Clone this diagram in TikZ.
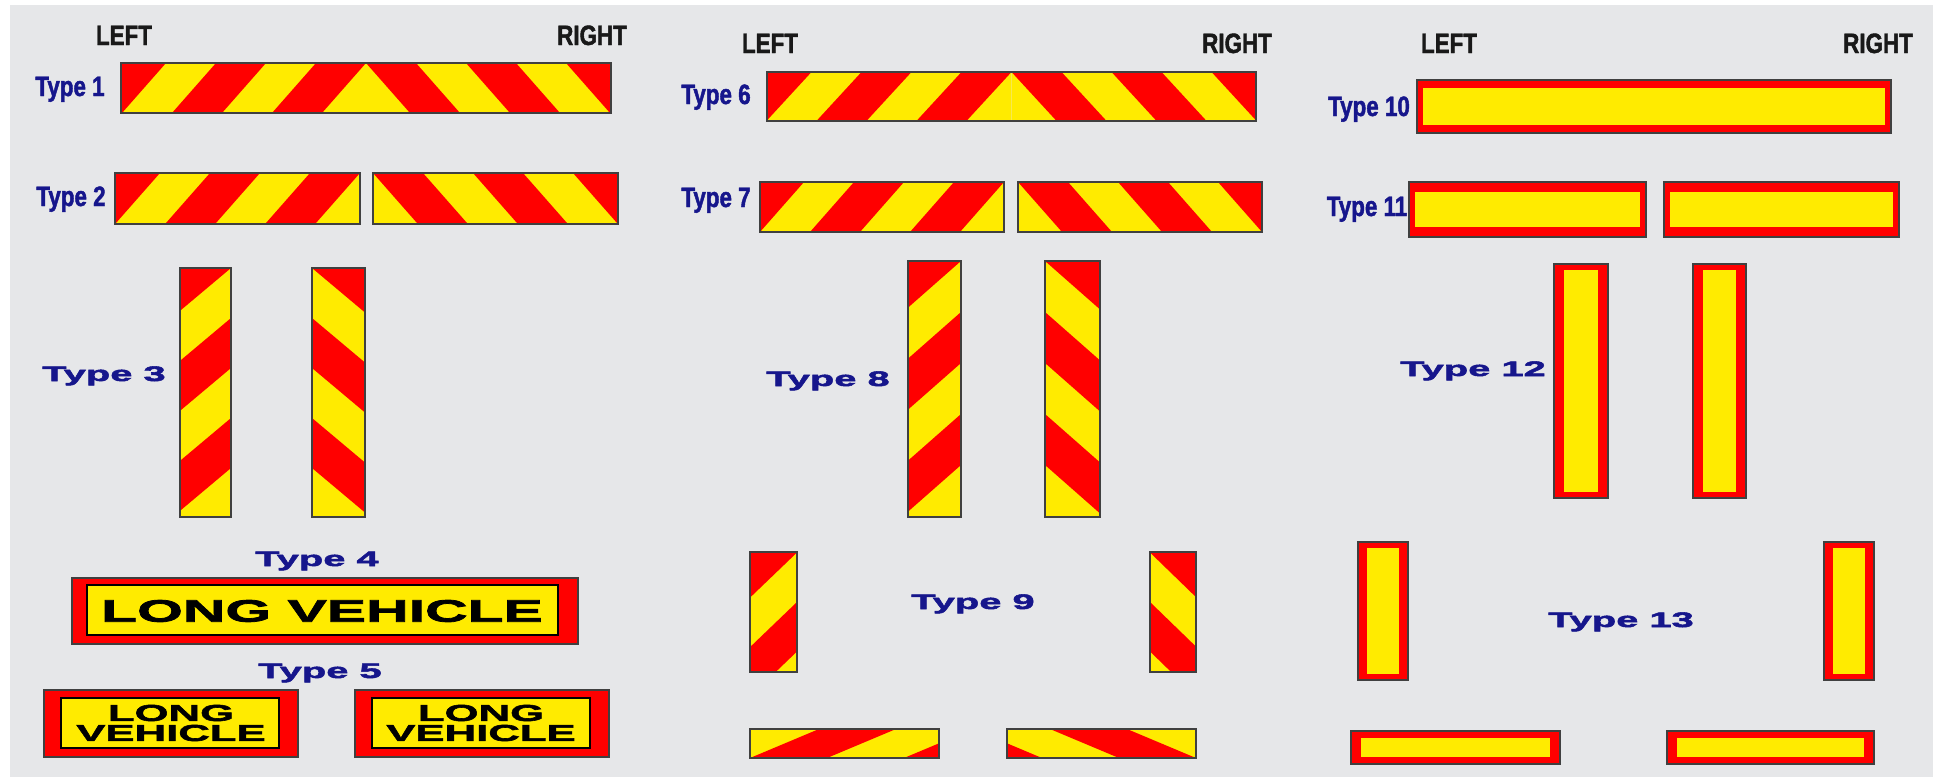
\documentclass[tikz,border=0pt]{standalone}
\usepackage{fontspec}
\setmainfont{Liberation Sans}
\newfontfamily\narrowfont{Liberation Sans Bold}[FakeStretch=0.8, FakeBold=1.5]
\newfontfamily\widefont{Liberation Sans Bold}[FakeStretch=1.9, FakeBold=2.5]
\usetikzlibrary{calc}

\definecolor{panelgrey}{HTML}{E6E7E9}
\definecolor{signred}{HTML}{FF0000}
\definecolor{signyellow}{HTML}{FFEB00}
\definecolor{labelblue}{HTML}{16168C}

\tikzset{
  signedge/.style={draw=black!75, line width=1.2pt},
  sidelabel/.style={anchor=base, inner sep=0pt, text=black!90,
    font=\narrowfont\fontsize{28}{30}\selectfont},
  typelabel/.style={anchor=base, inner sep=0pt, text=labelblue,
    font=\narrowfont\fontsize{28}{30}\selectfont},
  widelabel/.style={anchor=base, inner sep=0pt, text=labelblue,
    font=\widefont\fontsize{21}{23}\selectfont},
  signtext/.style={inner sep=0pt, align=center, text=black,
    font=\widefont\fontsize{#1}{20}\selectfont},
}

% striped board: corners, anchor point, step, shear, red bands
\newcommand{\stripefill}[6]{%
  \begin{scope}
    \clip #1 rectangle #2;
    \fill[signyellow] #1 rectangle #2;
    \foreach \k in {#6}
      \fill[signred] ($#3+\k*#4$) -- ($#3+\k*#4+#4$) -- ($#3+\k*#4+#4+#5$) -- ($#3+\k*#4+#5$) -- cycle;
  \end{scope}}

% red framed reflector: x1 y1 x2 y2 border-x border-y
\newcommand{\reflector}[6]{%
  \fill[signred] (#1,#2) rectangle (#3,#4);
  \fill[signyellow] ({#1+#5},{#2+#6}) rectangle ({#3-#5},{#4-#6});
  \draw[signedge] (#1,#2) rectangle (#3,#4);}

\begin{document}
\begin{tikzpicture}[x=1pt, y=-1pt]
\useasboundingbox (0,0) rectangle (1948,777);
\fill[white] (0,0) rectangle (1948,777);
\fill[panelgrey] (10,5) rectangle (1933,777);

% ---- first column
\node[sidelabel] (leftA) at (124,45) {LEFT};
\node[sidelabel] (rightA) at (592,45) {RIGHT};

\node[typelabel] (t1) at (70,96) {Type 1};
\stripefill{(121,63)}{(366,113)}{(366,63)}{(-50,0)}{(-88,100)}{0,2,4}
\stripefill{(366,63)}{(611,113)}{(366,63)}{(50,0)}{(88,100)}{0,2,4}
\draw[signedge] (121,63) rectangle (611,113);

\node[typelabel] (t2) at (71,206) {Type 2};
\stripefill{(115,173)}{(360,224)}{(360,173)}{(-50,0)}{(-88,100)}{0,2,4}
\draw[signedge] (115,173) rectangle (360,224);
\stripefill{(373,173)}{(618,224)}{(373,173)}{(50,0)}{(88,100)}{0,2,4}
\draw[signedge] (373,173) rectangle (618,224);

\node[widelabel] (t3) at (104,381) {Type 3};
\stripefill{(180,268)}{(231,517)}{(231,218)}{(0,50)}{(-100,84)}{0,2,4}
\draw[signedge] (180,268) rectangle (231,517);
\stripefill{(312,268)}{(365,517)}{(312,218)}{(0,50)}{(100,84)}{0,2,4}
\draw[signedge] (312,268) rectangle (365,517);

\node[widelabel] (t4) at (317,566) {Type 4};
\fill[signred] (72,578) rectangle (578,644);
\draw[signedge] (72,578) rectangle (578,644);
\filldraw[fill=signyellow, draw=black, line width=1.5pt] (87,585) rectangle (558,635);
\node[signtext=31] (lvA) at (322,611) {LONG VEHICLE};

\node[widelabel] (t5) at (320,678) {Type 5};
\fill[signred] (44,690) rectangle (298,757);
\draw[signedge] (44,690) rectangle (298,757);
\filldraw[fill=signyellow, draw=black, line width=1.5pt] (61,698) rectangle (279,748);
\node[signtext=23] (lvB) at (171,723) {LONG\\VEHICLE};
\fill[signred] (355,690) rectangle (609,757);
\draw[signedge] (355,690) rectangle (609,757);
\filldraw[fill=signyellow, draw=black, line width=1.5pt] (372,698) rectangle (590,748);
\node[signtext=23] (lvC) at (481,723) {LONG\\VEHICLE};

% ---- second column
\node[sidelabel] (leftB) at (770,53) {LEFT};
\node[sidelabel] (rightB) at (1237,53) {RIGHT};

\node[typelabel] (t6) at (716,104) {Type 6};
\stripefill{(767,72)}{(1011.5,121)}{(1011.5,72)}{(-50,0)}{(-92,100)}{0,2,4}
\stripefill{(1011.5,72)}{(1256,121)}{(1011.5,72)}{(50,0)}{(92,100)}{0,2,4}
\draw[signedge] (767,72) rectangle (1256,121);

\node[typelabel] (t7) at (716,207) {Type 7};
\stripefill{(760,182)}{(1004,232)}{(1004,182)}{(-50,0)}{(-88,100)}{0,2,4}
\draw[signedge] (760,182) rectangle (1004,232);
\stripefill{(1018,182)}{(1262,232)}{(1018,182)}{(50,0)}{(88,100)}{0,2,4}
\draw[signedge] (1018,182) rectangle (1262,232);

\node[widelabel] (t8) at (828,386) {Type 8};
\stripefill{(908,261)}{(961,517)}{(961,210)}{(0,51)}{(-100,88)}{0,2,4}
\draw[signedge] (908,261) rectangle (961,517);
\stripefill{(1045,261)}{(1100,517)}{(1045,210)}{(0,51)}{(100,88)}{0,2,4}
\draw[signedge] (1045,261) rectangle (1100,517);

\node[widelabel] (t9) at (973,609) {Type 9};
\stripefill{(750,552)}{(797,672)}{(797,503)}{(0,49.5)}{(-100,96)}{0,2}
\draw[signedge] (750,552) rectangle (797,672);
\stripefill{(1150,552)}{(1196,672)}{(1150,503)}{(0,49.5)}{(100,97)}{0,2}
\draw[signedge] (1150,552) rectangle (1196,672);
\stripefill{(750,729)}{(939,758)}{(750,758)}{(77,0)}{(238,-100)}{0,2}
\draw[signedge] (750,729) rectangle (939,758);
\stripefill{(1007,729)}{(1196,758)}{(1196,758)}{(-77,0)}{(-238,-100)}{0,2}
\draw[signedge] (1007,729) rectangle (1196,758);

% ---- third column
\node[sidelabel] (leftC) at (1449,53) {LEFT};
\node[sidelabel] (rightC) at (1878,53) {RIGHT};

\node[typelabel] (t10) at (1369,116) {Type 10};
\reflector{1417}{80}{1891}{133}{6}{8}

\node[typelabel] (t11) at (1367,216) {Type 11};
\reflector{1409}{182}{1646}{237}{6}{10}
\reflector{1664}{182}{1899}{237}{6}{10}

\node[widelabel] (t12) at (1473,376) {Type 12};
\reflector{1554}{264}{1608}{498}{10}{6}
\reflector{1693}{264}{1746}{498}{10}{6}

\node[widelabel] (t13) at (1621,627) {Type 13};
\reflector{1358}{542}{1408}{680}{9}{6}
\reflector{1824}{542}{1874}{680}{9}{6}
\reflector{1351}{731}{1560}{764}{10}{7}
\reflector{1667}{731}{1874}{764}{10}{7}
\end{tikzpicture}
\end{document}
